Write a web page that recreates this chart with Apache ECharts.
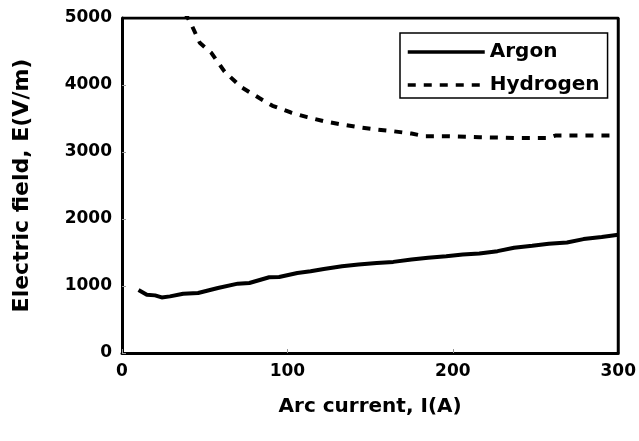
<!DOCTYPE html>
<html>
<head>
<meta charset="utf-8">
<script src="https://cdn.jsdelivr.net/npm/echarts@6/dist/echarts.min.js"></script>
<style>
html, body { margin: 0; padding: 0; background: #fff; }
#chart { width: 639px; height: 441px; }
</style>
</head>
<body>
<div id="chart"></div>
<script>
// arc current (A) and electric field (V/m)
const argonI = [10, 15, 20, 24, 29, 37, 46, 58, 70, 77, 89, 95, 106, 114, 122, 133, 143, 154, 164, 175, 185, 196, 206, 216, 227, 237, 248, 258, 269, 279, 290, 300]
const argonE = [940, 870, 860, 830, 845, 885, 895, 970, 1035, 1045, 1130, 1135, 1195, 1220, 1255, 1295, 1320, 1345, 1360, 1395, 1420, 1445, 1470, 1485, 1520, 1570, 1600, 1630, 1650, 1700, 1730, 1765]
const hydrogenI = [38, 42, 47, 54, 62, 72, 83, 91, 102, 112, 122, 133, 143, 154, 164, 175, 183, 196, 216, 237, 258, 262, 279, 300]
const hydrogenE = [5080, 4900, 4630, 4480, 4200, 3970, 3805, 3690, 3590, 3520, 3460, 3410, 3370, 3335, 3310, 3275, 3235, 3235, 3220, 3210, 3210, 3245, 3245, 3245]
const xTicks = [0, 100, 200, 300]
const yTicks = [0, 1000, 2000, 3000, 4000, 5000]

const font = 'DejaVu Sans'
const pair = (xs, ys) => xs.map((x, i) => [x, ys[i]])

let chart = echarts.init(document.getElementById('chart'))
let option = {
    animation: false,
    grid: { left: 122, right: 19, top: 18, bottom: 88, show: false },
    legend: {
        left: 400,
        top: 33,
        orient: 'vertical',
        itemWidth: 77,
        itemHeight: 14,
        itemGap: 13,
        padding: [9, 8, 3, 6],
        borderColor: '#000',
        borderWidth: 1.5,
        itemStyle: { opacity: 0 },
        lineStyle: { width: 3.5 },
        textStyle: { fontFamily: font, fontWeight: 'bold', fontSize: 20, color: '#000' },
        data: ['Argon', 'Hydrogen']
    },
    xAxis: {
        type: 'value',
        min: xTicks[0],
        max: xTicks[xTicks.length - 1],
        interval: 100,
        name: 'Arc current, I(A)',
        nameLocation: 'middle',
        nameGap: 44,
        nameTextStyle: { fontFamily: font, fontWeight: 'bold', fontSize: 20, color: '#000' },
        axisLine: { lineStyle: { color: '#000', width: 3 } },
        axisTick: { inside: true, length: 4, lineStyle: { color: '#999', width: 1 } },
        axisLabel: { fontFamily: font, fontWeight: 'bold', fontSize: 17, color: '#000', margin: 10 },
        splitLine: { show: false }
    },
    yAxis: {
        type: 'value',
        min: yTicks[0],
        max: yTicks[yTicks.length - 1],
        interval: 1000,
        name: 'Electric field, E(V/m)',
        nameLocation: 'middle',
        nameGap: 89,
        nameTextStyle: { fontFamily: font, fontWeight: 'bold', fontSize: 22, color: '#000' },
        axisLine: { lineStyle: { color: '#000', width: 3 } },
        axisTick: { inside: true, length: 4, lineStyle: { color: '#999', width: 1 } },
        axisLabel: { fontFamily: font, fontWeight: 'bold', fontSize: 17, color: '#000', margin: 10, formatter: v => String(v) },
        splitLine: { show: false }
    },
    series: [
        {
            name: 'Argon',
            type: 'line',
            symbol: 'none',
            data: pair(argonI, argonE),
            lineStyle: { color: '#000', width: 4 },
            itemStyle: { color: '#000' }
        },
        {
            name: 'Hydrogen',
            type: 'line',
            symbol: 'none',
            clip: true,
            data: pair(hydrogenI, hydrogenE),
            lineStyle: { color: '#000', width: 4, type: [8, 8] },
            itemStyle: { color: '#000' }
        },
        {
            // frame on top and right
            type: 'line',
            symbol: 'none',
            silent: true,
            data: [[0, 5000], [300, 5000], [300, 0]],
            lineStyle: { color: '#000', width: 3 },
            z: 1
        }
    ]
}
chart.setOption(option)
</script>
</body>
</html>
